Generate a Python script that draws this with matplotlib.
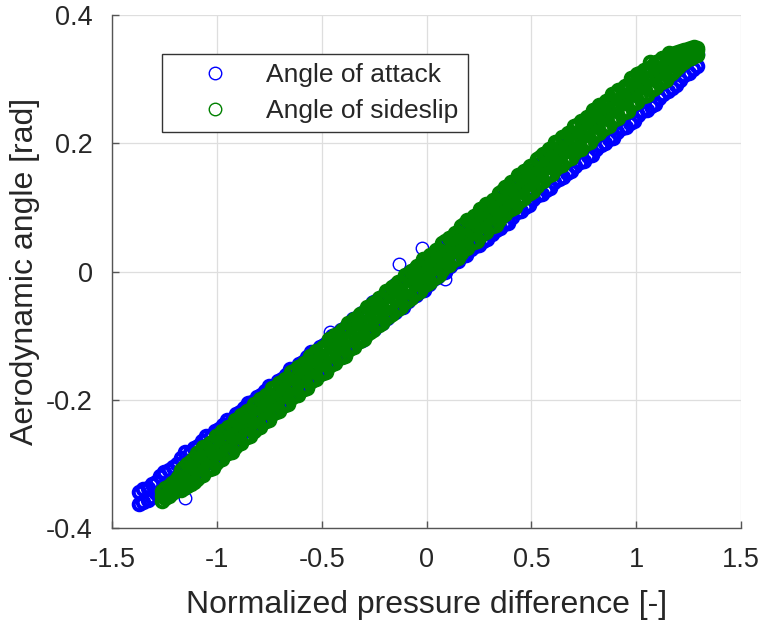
import matplotlib
matplotlib.use("Agg")
import matplotlib.pyplot as plt
import numpy as np

# values
# x in 1/100 (attack) or 1/1000 (sideslip) of normalized pressure difference, y in mrad

# Angle of attack: upper and lower side of the band, same x positions
aoa_x = [-137, -135, -133, -131, -129, -127, -125, -123, -121, -119,
         -117, -115, -113, -111, -109, -107, -105, -103, -101, -99,
         -97, -95, -93, -91, -89, -87, -85, -83, -81, -79,
         -77, -75, -73, -71, -69, -67, -65, -63, -61, -59,
         -57, -55, -53, -51, -49, -47, -45, -43, -41, -39,
         -37, -35, -33, -31, -29, -27, -25, -23, -21, -19,
         -17, -15, -13, -11, -9, -7, -5, -3, -1, 1,
         3, 5, 7, 9, 11, 13, 15, 17, 19, 21,
         23, 25, 27, 29, 31, 33, 35, 37, 39, 41,
         43, 45, 47, 49, 51, 53, 55, 57, 59, 61,
         63, 65, 67, 69, 71, 73, 75, 77, 79, 81,
         83, 85, 87, 89, 91, 93, 95, 97, 99, 101,
         103, 105, 107, 109, 111, 113, 115, 117, 119, 121,
         123, 125, 127, 129]
aoa_hi = [-344, -339, -337, -331, -328, -319, -313, -310, -305, -300,
          -291, -282, -283, -275, -272, -265, -257, -257, -249, -245,
          -239, -231, -231, -222, -219, -213, -205, -204, -196, -193,
          -187, -178, -178, -170, -167, -161, -152, -152, -144, -141,
          -134, -126, -126, -118, -114, -108, -100, -100, -91, -88,
          -82, -74, -73, -65, -62, -56, -47, -47, -39, -36,
          -30, -21, -21, -13, -10, -3, 5, 5, 13, 17,
          25, 33, 33, 42, 45, 51, 59, 60, 68, 71,
          79, 88, 88, 96, 99, 105, 114, 114, 122, 125,
          136, 144, 144, 152, 156, 162, 170, 170, 179, 182,
          188, 196, 197, 205, 208, 214, 222, 223, 231, 234,
          240, 249, 249, 257, 260, 267, 275, 275, 283, 287,
          293, 301, 301, 310, 313, 314, 320, 323, 330, 335,
          330, 334, 337, 339]
aoa_lo = [-363, -360, -356, -352, -346, -346, -342, -337, -334, -327,
          -327, -324, -319, -317, -308, -301, -299, -293, -291, -281,
          -275, -273, -267, -264, -255, -249, -247, -240, -238, -229,
          -223, -220, -214, -212, -203, -197, -194, -188, -186, -177,
          -170, -168, -162, -160, -150, -144, -142, -136, -133, -124,
          -118, -116, -109, -107, -98, -92, -89, -83, -81, -72,
          -66, -63, -57, -55, -46, -39, -37, -31, -29, -19,
          -11, -9, -3, 0, 9, 15, 17, 24, 26, 35,
          39, 42, 48, 50, 59, 65, 68, 74, 76, 85,
          93, 95, 101, 103, 113, 119, 121, 127, 130, 139,
          145, 147, 154, 156, 165, 171, 173, 180, 182, 191,
          197, 200, 206, 208, 217, 224, 226, 232, 234, 244,
          250, 252, 258, 261, 270, 277, 281, 286, 291, 298,
          306, 310, 316, 320]
# scattered samples off the band
aoa_out_x = [-115, -46, -39, -26, -13, -2, 9, 49, 82]
aoa_out_y = [-354, -94, -91, -47, 11, 37, -11, 163, 252]

# Angle of sideslip: upper, middle and lower part of the band
aos_x = [-1260, -1245, -1230, -1215, -1200, -1185, -1170, -1155, -1140, -1125, -1110, -1095,
         -1080, -1065, -1050, -1035, -1020, -1005, -990, -975, -960, -945, -930, -915,
         -900, -885, -870, -855, -840, -825, -810, -795, -780, -765, -750, -735,
         -720, -705, -690, -675, -660, -645, -630, -615, -600, -585, -570, -555,
         -540, -525, -510, -495, -480, -465, -450, -435, -420, -405, -390, -375,
         -360, -345, -330, -315, -300, -285, -270, -255, -240, -225, -210, -195,
         -180, -165, -150, -135, -120, -105, -90, -75, -60, -45, -30, -15,
         0, 15, 30, 45, 60, 75, 90, 105, 120, 135, 150, 165,
         180, 195, 210, 225, 240, 255, 270, 285, 300, 315, 330, 345,
         360, 375, 390, 405, 420, 435, 450, 465, 480, 495, 510, 525,
         540, 555, 570, 585, 600, 615, 630, 645, 660, 675, 690, 705,
         720, 735, 750, 765, 780, 795, 810, 825, 840, 855, 870, 885,
         900, 915, 930, 945, 960, 975, 990, 1005, 1020, 1035, 1050, 1065,
         1080, 1095, 1110, 1125, 1140, 1155, 1170, 1185, 1200, 1215, 1230, 1245,
         1260, 1275, 1290]
aos_hi = [-342, -338, -334, -330, -326, -321, -310, -305, -300, -295, -291, -283,
          -280, -274, -273, -267, -266, -256, -255, -249, -248, -242, -241, -231,
          -230, -224, -223, -217, -216, -206, -205, -199, -198, -192, -191, -181,
          -180, -174, -173, -167, -166, -156, -155, -149, -148, -142, -141, -131,
          -130, -124, -123, -117, -116, -106, -105, -99, -98, -92, -91, -81,
          -80, -74, -73, -67, -66, -56, -55, -49, -48, -42, -41, -31,
          -30, -24, -23, -17, -16, -6, -5, 1, 2, 8, 9, 19,
          20, 26, 27, 33, 34, 44, 47, 53, 54, 60, 61, 71,
          74, 80, 81, 87, 88, 98, 99, 105, 106, 112, 113, 123,
          126, 132, 133, 139, 140, 150, 151, 157, 158, 164, 165, 175,
          178, 184, 185, 191, 192, 202, 203, 209, 210, 216, 217, 227,
          228, 234, 235, 241, 242, 252, 253, 259, 260, 266, 267, 277,
          277, 283, 284, 290, 291, 301, 302, 308, 309, 315, 316, 326,
          322, 327, 329, 333, 335, 340, 338, 340, 342, 344, 345, 347,
          348, 350, 349]
aos_mid = [-350, -348, -341, -339, -332, -329, -325, -323, -316, -314, -307, -304,
           -300, -298, -291, -289, -282, -279, -275, -273, -266, -264, -257, -254,
           -250, -248, -241, -239, -232, -229, -225, -223, -216, -214, -207, -204,
           -200, -198, -191, -189, -182, -179, -175, -173, -166, -164, -157, -154,
           -150, -148, -141, -139, -132, -129, -125, -123, -116, -114, -107, -104,
           -100, -98, -91, -89, -82, -79, -75, -73, -66, -64, -57, -54,
           -50, -48, -41, -39, -32, -29, -25, -23, -16, -14, -7, -4,
           0, 2, 9, 11, 18, 21, 27, 29, 36, 38, 45, 48,
           54, 56, 63, 65, 72, 75, 79, 81, 88, 90, 97, 100,
           106, 108, 115, 117, 124, 127, 131, 133, 140, 142, 149, 152,
           158, 160, 167, 169, 176, 179, 183, 185, 192, 194, 201, 204,
           208, 210, 217, 219, 226, 229, 233, 235, 242, 244, 251, 254,
           257, 259, 266, 268, 275, 278, 282, 284, 291, 293, 300, 303,
           304, 306, 313, 315, 320, 323, 323, 325, 330, 332, 337, 340,
           342, 343, 345]
aos_lo = [-358, -354, -350, -346, -342, -337, -341, -338, -334, -331, -328, -323,
          -319, -317, -310, -308, -306, -298, -294, -292, -285, -283, -281, -273,
          -269, -267, -260, -258, -256, -248, -244, -242, -235, -233, -231, -223,
          -219, -217, -210, -208, -206, -198, -194, -192, -185, -183, -181, -173,
          -169, -167, -160, -158, -156, -148, -144, -142, -135, -133, -131, -123,
          -119, -117, -110, -108, -106, -98, -94, -92, -85, -83, -81, -73,
          -69, -67, -60, -58, -56, -48, -44, -42, -35, -33, -31, -23,
          -19, -17, -10, -8, -6, 2, 8, 10, 17, 19, 21, 29,
          35, 37, 44, 46, 48, 56, 60, 62, 69, 71, 73, 81,
          87, 89, 96, 98, 100, 108, 112, 114, 121, 123, 125, 133,
          139, 141, 148, 150, 152, 160, 164, 166, 173, 175, 177, 185,
          189, 191, 198, 200, 202, 210, 214, 216, 223, 225, 227, 235,
          238, 240, 247, 249, 251, 259, 263, 265, 272, 274, 276, 284,
          285, 287, 294, 296, 298, 306, 310, 314, 319, 323, 327, 331,
          333, 336, 337]

x_ticks = [-1.5, -1, -0.5, 0, 0.5, 1, 1.5]
y_ticks = [-0.4, -0.2, 0, 0.2, 0.4]

blue = '#0000ff'
green = '#008000'
text_col = '#262626'
plt.rcParams['font.family'] = ['Liberation Sans', 'DejaVu Sans']

# to plot units
bx = np.array(aoa_x + aoa_x) / 100.0
by = np.array(aoa_hi + aoa_lo) / 1000.0
ox = np.array(aoa_out_x) / 100.0
oy = np.array(aoa_out_y) / 1000.0
gx = np.array(aos_x + aos_x + aos_x) / 1000.0
gy = np.array(aos_hi + aos_mid + aos_lo) / 1000.0

fig = plt.figure(figsize=(7.63, 6.23), dpi=100)
ax = fig.add_axes([0.1468, 0.1525, 0.8244, 0.8234])

# heavily overlapping samples -> thicker rim so the band reads as solid
dense = dict(linestyle='none', marker='o', mfc='none', ms=8.3, mew=2.9)
thin = dict(linestyle='none', marker='o', mfc='none', ms=9.0, mew=1.0)
ax.plot(bx, by, mec=blue, **dense)
ax.plot(ox, oy, mec=blue, **thin)
ax.plot(gx, gy, mec=green, **dense)

# legend entries
ax.plot([], [], mec=blue, label='Angle of attack', **thin)
ax.plot([], [], mec=green, label='Angle of sideslip', **thin)

ax.set_xlim(-1.5, 1.5)
ax.set_ylim(-0.4, 0.4)
ax.set_xticks(x_ticks)
ax.set_yticks(y_ticks)
ax.set_xticklabels(['%g' % v for v in x_ticks])
ax.set_yticklabels(['%g' % v for v in y_ticks])
ax.grid(True, color='#dedede', linewidth=0.9)
ax.set_axisbelow(True)
for s in ['top', 'right']:
    ax.spines[s].set_visible(False)
for s in ['left', 'bottom']:
    ax.spines[s].set_color('#555555')
    ax.spines[s].set_linewidth(1.0)
ax.tick_params(direction='in', length=5, width=1.0, color='#555555',
               labelsize=19.5, labelcolor=text_col, pad=14)

ax.set_xlabel('Normalized pressure difference [-]', fontsize=23, color=text_col, labelpad=12)
ax.set_ylabel('Aerodynamic angle [rad]', fontsize=23, color=text_col, labelpad=4)

leg = ax.legend(loc='upper left', bbox_to_anchor=(162 / 763, 1 - 54 / 623),
                bbox_transform=fig.transFigure, fontsize=19, frameon=True, fancybox=False,
                edgecolor='#333333', framealpha=1, borderpad=0.35, handlelength=3.3,
                handletextpad=0.3, labelspacing=0.45, borderaxespad=0)
leg.get_frame().set_linewidth(1.0)
for t in leg.get_texts():
    t.set_color(text_col)

fig.savefig('out.png', dpi=100)
